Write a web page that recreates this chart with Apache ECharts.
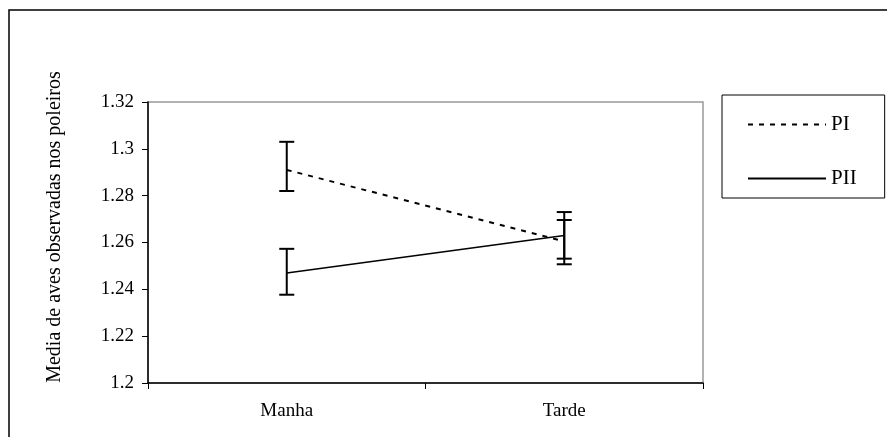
<!DOCTYPE html>
<html>
<head>
<meta charset="utf-8">
<script src="https://cdn.jsdelivr.net/npm/echarts@6/dist/echarts.min.js"></script>
<style>
  html, body { margin: 0; padding: 0; background: #fff; }
  #chart { width: 887px; height: 448px; }
</style>
</head>
<body>
<div id="chart"></div>
<script>
// Periods of the day
const categories = ['Manha', 'Tarde'];

// Mean number of birds seen on the perches
const piMean = [1.291, 1.2605];
const piiMean = [1.247, 1.263];

// Error bar limits [low, high] per period
const piLow = [1.282, 1.2507];
const piHigh = [1.303, 1.2696];
const piiLow = [1.2377, 1.2531];
const piiHigh = [1.2573, 1.273];

// Y axis scale
const yMin = 1.2;
const yMax = 1.32;
const yStep = 0.02;

const serifFont = '"Liberation Serif", "DejaVu Serif", serif';

function errorBars(low, high) {
  return categories.map((c, i) => [i, low[i], high[i]]);
}

function renderErrorBar(params, api) {
  const i = api.value(0);
  const top = api.coord([i, api.value(2)]);
  const bottom = api.coord([i, api.value(1)]);
  const half = 7.5;
  const style = { stroke: '#000', lineWidth: 2 };
  return {
    type: 'group',
    children: [
      { type: 'line', shape: { x1: top[0], y1: top[1], x2: bottom[0], y2: bottom[1] }, style },
      { type: 'line', shape: { x1: top[0] - half, y1: top[1], x2: top[0] + half, y2: top[1] }, style },
      { type: 'line', shape: { x1: bottom[0] - half, y1: bottom[1], x2: bottom[0] + half, y2: bottom[1] }, style }
    ]
  };
}

const chart = echarts.init(document.getElementById('chart'), null, { renderer: 'canvas' });

chart.setOption({
  animation: false,
  backgroundColor: '#fff',
  textStyle: { fontFamily: serifFont, color: '#000' },
  grid: {
    left: 148, top: 102, right: 184, bottom: 65,
    show: true, borderColor: '#999', borderWidth: 1.5, backgroundColor: 'transparent'
  },
  legend: {
    orient: 'vertical',
    left: 722, top: 95,
    padding: [19, 28, 9, 25],
    itemWidth: 78, itemHeight: 14, itemGap: 33,
    itemStyle: { opacity: 0 },
    borderColor: '#000', borderWidth: 1,
    textStyle: { fontFamily: serifFont, fontSize: 21, lineHeight: 18, color: '#000' },
    data: ['PI', 'PII']
  },
  xAxis: {
    type: 'category',
    data: categories,
    boundaryGap: true,
    axisLine: { lineStyle: { color: '#000', width: 1.5 } },
    axisTick: { show: true, length: 6, lineStyle: { color: '#000' } },
    axisLabel: { fontFamily: serifFont, fontSize: 19, color: '#000', margin: 19 },
    splitLine: { show: false }
  },
  yAxis: {
    type: 'value',
    min: yMin, max: yMax, interval: yStep,
    axisLine: { show: true, lineStyle: { color: '#000', width: 1.5 } },
    axisTick: { show: true, length: 6, lineStyle: { color: '#000' } },
    axisLabel: {
      fontFamily: serifFont, fontSize: 19, color: '#000', margin: 14,
      formatter: v => String(parseFloat(v.toFixed(2)))
    },
    splitLine: { show: false }
  },
  graphic: [
    {
      type: 'polyline',
      shape: { points: [[887, 10], [9, 10], [9, 437]] },
      style: { stroke: '#000', lineWidth: 1.5, fill: 'none' },
      silent: true
    },
    {
      type: 'text',
      x: 55, y: 227,
      rotation: Math.PI / 2,
      style: {
        text: 'Media de aves observadas nos poleiros',
        font: '20px ' + serifFont,
        fill: '#000',
        align: 'center',
        verticalAlign: 'middle'
      },
      silent: true
    }
  ],
  series: [
    {
      name: 'PI',
      type: 'line',
      data: piMean,
      symbol: 'none',
      lineStyle: { color: '#000', width: 2, type: [5, 6] },
      itemStyle: { color: '#000' },
      z: 3
    },
    {
      name: 'PII',
      type: 'line',
      data: piiMean,
      symbol: 'none',
      lineStyle: { color: '#000', width: 1.5, type: 'solid' },
      itemStyle: { color: '#000' },
      z: 3
    },
    {
      name: 'PI bars',
      type: 'custom',
      renderItem: renderErrorBar,
      data: errorBars(piLow, piHigh),
      encode: { x: 0, y: [1, 2] },
      z: 4
    },
    {
      name: 'PII bars',
      type: 'custom',
      renderItem: renderErrorBar,
      data: errorBars(piiLow, piiHigh),
      encode: { x: 0, y: [1, 2] },
      z: 4
    }
  ]
});
</script>
</body>
</html>
